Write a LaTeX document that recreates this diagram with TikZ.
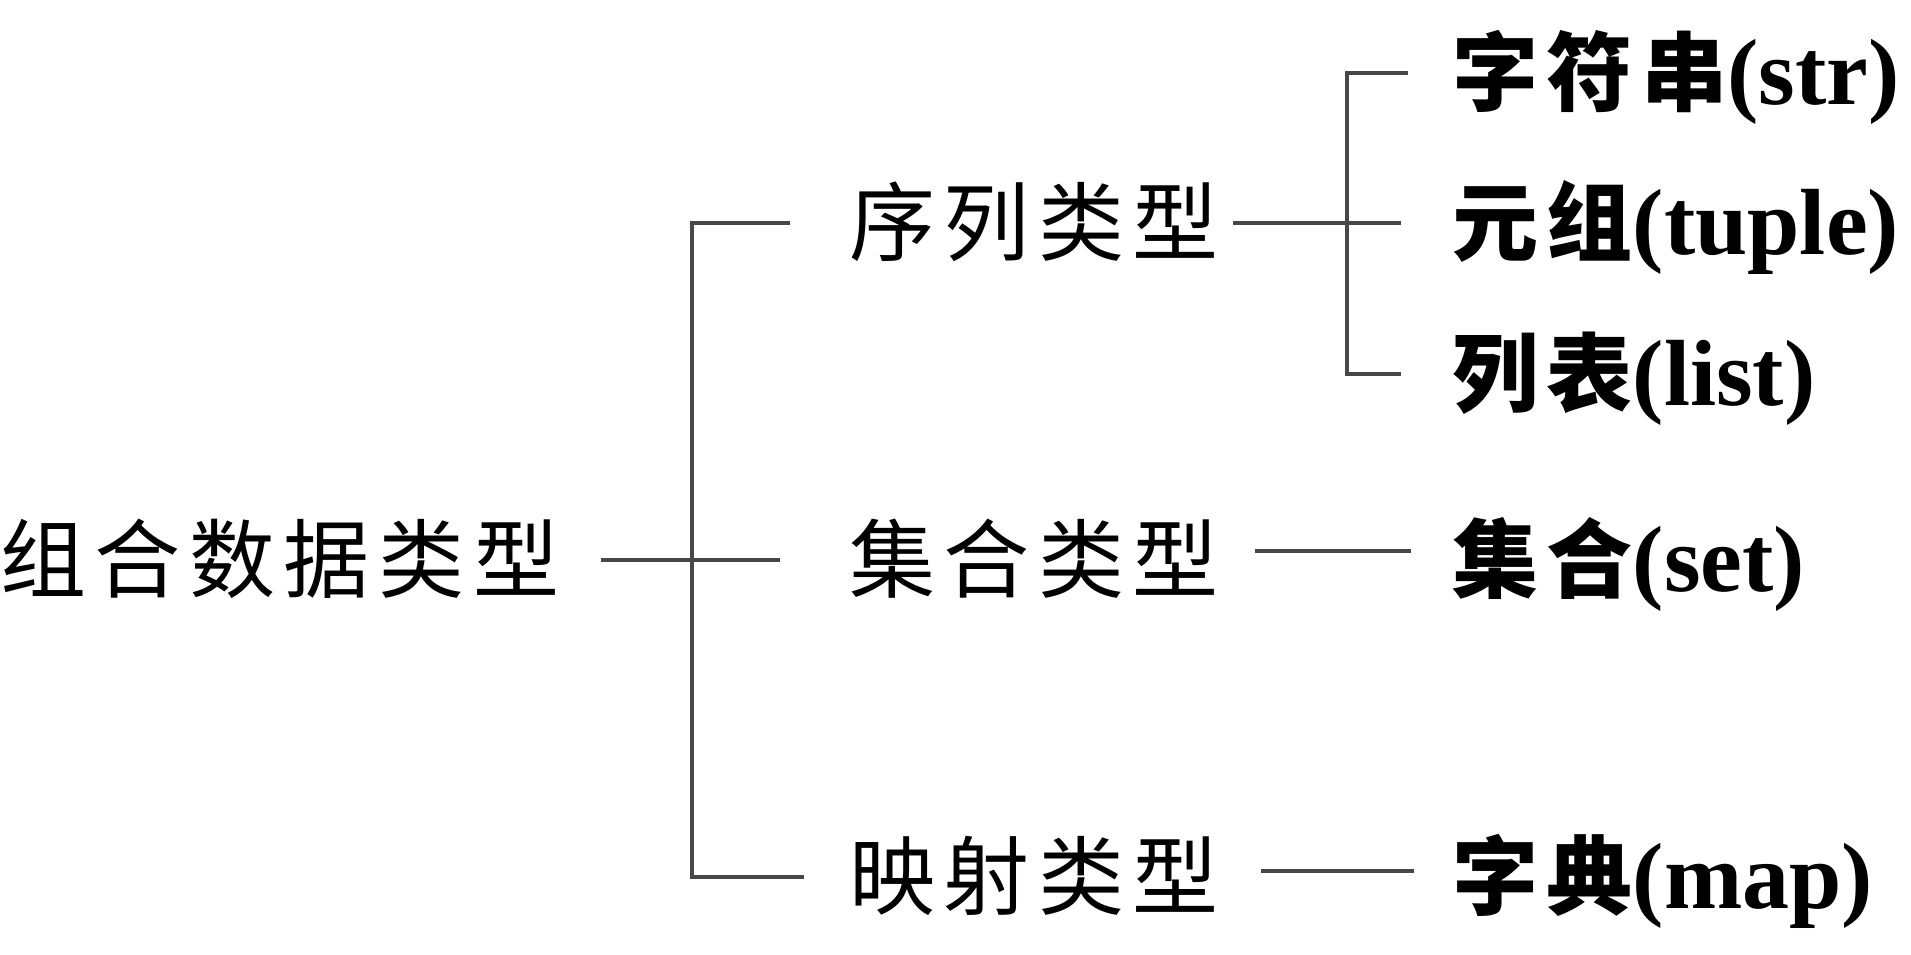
\documentclass[tikz,border=0pt]{standalone}
\usepackage{fontspec}
\setmainfont{Liberation Serif}
\newfontfamily\cjk[LetterSpace=10]{Noto Sans CJK SC}
\newcommand\zh[1]{{\cjk\fontsize{86}{90}\selectfont #1}}
\usetikzlibrary{positioning}

\begin{document}
\begin{tikzpicture}[
  x=1pt, y=-1pt,
  kind/.style={anchor=west, inner sep=0pt, text height=74pt, text depth=12pt,
               font=\fontsize{86}{90}\selectfont\cjk},
  leaf/.style={kind, font=\fontsize{94}{96}\selectfont\bfseries},
  link/.style={line width=4pt, draw=black!72},
]
  \useasboundingbox (0,0) rectangle (1911,954);

  % root and the three kinds
  \node[kind] (root) at (0,560) {组合数据类型};
  \node[kind] (seq) at (849,223) {序列类型};
  \node[kind] (set) at (849,560) {集合类型};
  \node[kind] (map) at (849,877) {映射类型};

  % concrete types
  \node[leaf] (str) at (1452,73) {\zh{字符串}(str)};
  \node[leaf] (tuple) at (1452,223) {\zh{元组}(tuple)};
  \node[leaf] (list) at (1452,374) {\zh{列表}(list)};
  \node[leaf] (setc) at (1452,560) {\zh{集合}(set)};
  \node[leaf] (dict) at (1452,877) {\zh{字典}(map)};

  % big bracket
  \coordinate (rootR) at (601,560);
  \coordinate (forkT) at (692,223);
  \coordinate (forkB) at (692,877);
  \coordinate (seqL) at ([xshift=-59pt]seq.west);
  \coordinate (setL) at ([xshift=-69pt]set.west);
  \coordinate (mapL) at ([xshift=-45pt]map.west);
  \draw[link] (seqL) -- (forkT) -- (forkB) -- (mapL);
  \draw[link] (rootR) -- (setL);

  % sequence bracket
  \coordinate (seqR) at ([xshift=14pt]seq.east);
  \coordinate (subT) at (1347,73);
  \coordinate (subB) at (1347,374);
  \coordinate (strL) at ([xshift=-44pt]str.west);
  \coordinate (tupleL) at ([xshift=-51pt]tuple.west);
  \coordinate (listL) at ([xshift=-51pt]list.west);
  \draw[link] (strL) -- (subT) -- (subB) -- (listL);
  \draw[link] (seqR) -- (tupleL);

  % single links
  \draw[link] ([xshift=36pt]set.east |- 0,551) -- ([xshift=-41pt]setc.west |- 0,551);
  \draw[link] ([xshift=42pt]map.east |- 0,871) -- ([xshift=-38pt]dict.west |- 0,871);
\end{tikzpicture}
\end{document}
